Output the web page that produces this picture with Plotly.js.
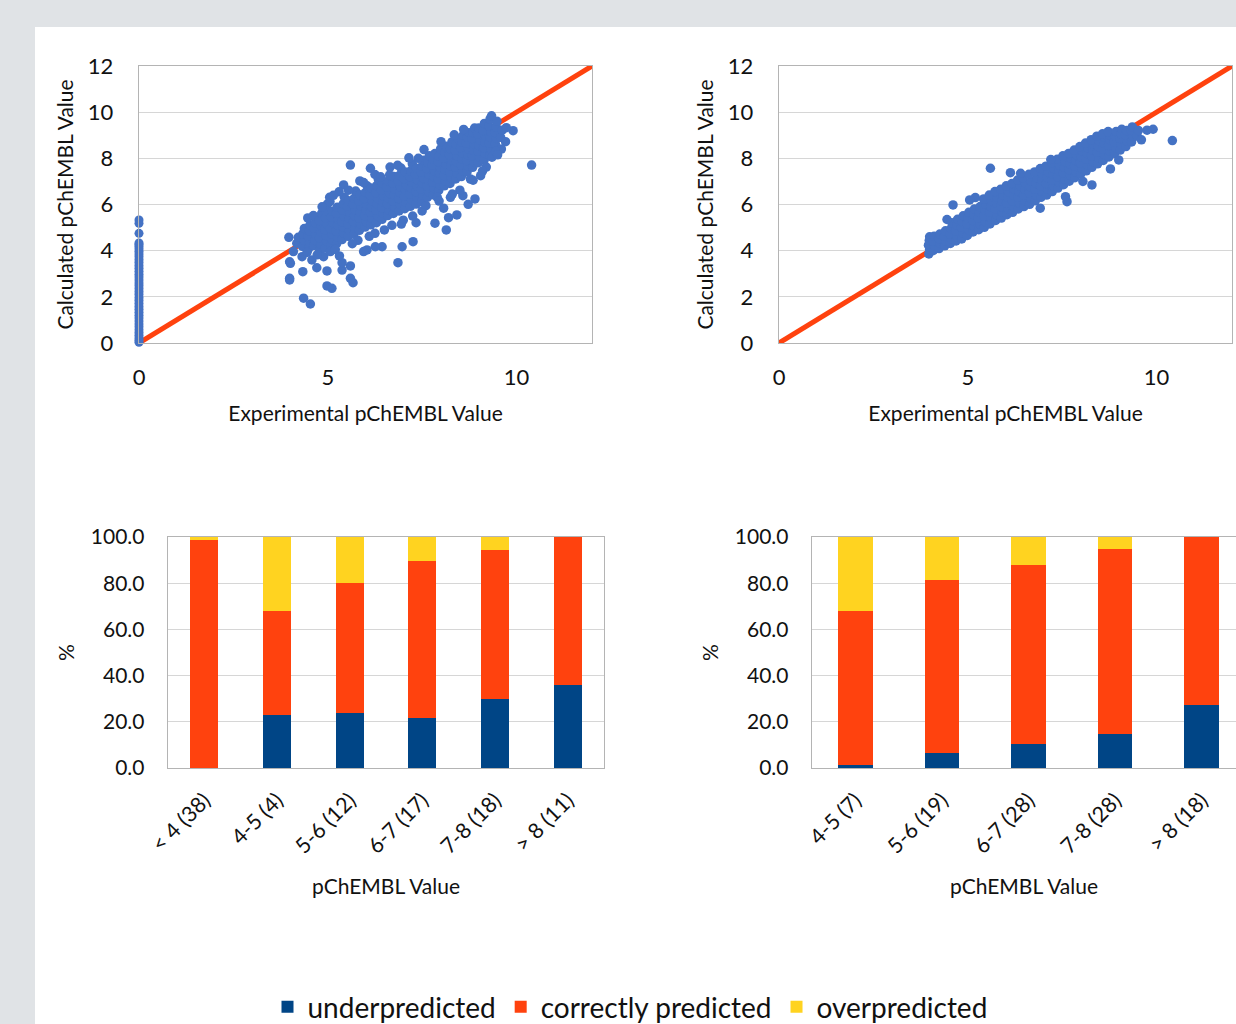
<!DOCTYPE html>
<html>
<head>
<meta charset="utf-8">
<script src="https://cdn.plot.ly/plotly-3.0.1.min.js"></script>
<style>
  html, body { margin: 0; padding: 0; background: #e0e3e6; overflow: hidden; }
  #chart { width: 1236px; height: 1024px; }
</style>
</head>
<body>
<div id="chart"></div>
<script>
// ---------- DATA ----------
// identity reference line (y = x)
const identityLineX = [0, 12];
const identityLineY = [0, 12];

// left scatter: compounds with experimental value 0 (column at x = 0)
const leftZeroColumnY = [0.03, 0.12, 0.22, 0.34, 0.45, 0.57, 0.7, 0.82, 0.95, 1.08, 1.2, 1.33, 1.46, 1.58,
  1.71, 1.84, 1.96, 2.1, 2.22, 2.35, 2.48, 2.6, 2.73, 2.86, 2.98, 3.11, 3.24, 3.36, 3.49, 3.61, 3.74,
  3.86, 3.98, 4.08, 4.18, 4.27, 4.33, 4.75, 5.19, 5.33];

// left scatter: [experimental, calculated]
const leftCloud = [
  [4.18,4.32],[4.22,4.58],
  [4.33,4.18],[4.37,4.47],[4.34,4.73],[4.38,4.96],
  [4.49,4.08],[4.52,4.36],[4.48,4.62],[4.51,4.87],[4.53,5.12],[4.47,5.42],
  [4.63,4.22],[4.66,4.44],[4.68,4.71],[4.64,4.97],[4.67,5.21],[4.62,5.52],
  [4.79,4.02],[4.82,4.28],[4.78,4.56],[4.81,4.83],[4.83,5.06],[4.77,5.31],[4.84,5.62],
  [4.93,4.12],[4.97,4.41],[4.95,4.66],[4.92,4.91],[4.98,5.16],[4.94,5.43],[4.96,5.72],[4.99,6.02],
  [5.08,4.21],[5.12,4.47],[5.11,4.72],[5.07,4.96],[5.13,5.22],[5.09,5.46],[5.12,5.71],[5.06,6.12],
  [5.24,4.32],[5.27,4.58],[5.22,4.86],[5.26,5.11],[5.28,5.36],[5.23,5.62],[5.25,5.88],
  [5.38,4.48],[5.42,4.76],[5.41,5.02],[5.37,5.26],[5.43,5.51],[5.39,5.77],[5.41,6.03],[5.44,6.31],
  [5.54,4.62],[5.57,4.88],[5.53,5.16],[5.56,5.41],[5.58,5.66],[5.52,5.92],[5.55,6.16],
  [5.69,4.71],[5.72,4.98],[5.68,5.26],[5.71,5.52],[5.73,5.76],[5.67,6.02],[5.7,6.27],[5.74,6.58],
  [5.84,4.88],[5.87,5.16],[5.83,5.41],[5.86,5.66],[5.88,5.92],[5.82,6.16],[5.85,6.42],
  [5.99,5.02],[6.02,5.26],[5.98,5.52],[6.01,5.76],[6.03,6.01],[5.97,6.26],[6.0,6.52],[6.04,6.81],
  [6.14,5.12],[6.17,5.41],[6.13,5.66],[6.16,5.91],[6.18,6.16],[6.12,6.42],[6.15,6.72],
  [6.29,5.21],[6.32,5.52],[6.28,5.76],[6.31,6.02],[6.33,6.26],[6.27,6.51],[6.3,6.82],[6.34,7.08],
  [6.44,5.36],[6.47,5.61],[6.43,5.86],[6.46,6.12],[6.48,6.36],[6.42,6.62],[6.45,6.91],
  [6.59,5.52],[6.62,5.76],[6.58,6.02],[6.61,6.26],[6.63,6.51],[6.57,6.76],[6.6,7.02],[6.64,7.28],
  [6.74,5.61],[6.77,5.91],[6.73,6.16],[6.76,6.41],[6.78,6.66],[6.72,6.92],[6.75,7.21],
  [6.89,5.72],[6.92,6.01],[6.88,6.26],[6.91,6.52],[6.93,6.76],[6.87,7.01],[6.9,7.26],[6.94,7.58],
  [7.04,5.82],[7.07,6.11],[7.03,6.36],[7.06,6.62],[7.08,6.86],[7.02,7.12],[7.05,7.41],
  [7.19,5.92],[7.22,6.21],[7.18,6.46],[7.21,6.71],[7.23,6.96],[7.17,7.21],[7.2,7.46],[7.24,7.76],
  [7.34,6.02],[7.37,6.31],[7.33,6.56],[7.36,6.81],[7.38,7.06],[7.32,7.31],[7.35,7.57],
  [7.49,6.12],[7.52,6.41],[7.48,6.66],[7.51,6.91],[7.53,7.16],[7.47,7.41],[7.5,7.66],[7.54,7.92],
  [7.64,6.31],[7.67,6.56],[7.63,6.81],[7.66,7.06],[7.68,7.31],[7.62,7.56],[7.65,7.81],[7.69,8.11],
  [7.79,6.42],[7.82,6.71],[7.78,6.96],[7.81,7.21],[7.83,7.46],[7.77,7.71],[7.8,7.96],[7.84,8.21],
  [7.94,6.61],[7.97,6.86],[7.93,7.11],[7.96,7.36],[7.98,7.61],[7.92,7.86],[7.95,8.11],[7.99,8.41],
  [8.09,6.81],[8.12,7.02],[8.08,7.26],[8.11,7.51],[8.13,7.76],[8.07,8.01],[8.1,8.26],[8.14,8.52],
  [8.24,6.91],[8.27,7.16],[8.23,7.41],[8.26,7.66],[8.28,7.91],[8.22,8.16],[8.25,8.41],[8.29,8.71],
  [8.39,7.11],[8.42,7.36],[8.38,7.61],[8.41,7.86],[8.43,8.11],[8.37,8.36],[8.4,8.61],[8.44,8.86],
  [8.54,7.21],[8.57,7.46],[8.53,7.71],[8.56,7.96],[8.58,8.21],[8.52,8.46],[8.55,8.71],[8.59,9.01],
  [8.69,7.41],[8.72,7.66],[8.68,7.91],[8.71,8.16],[8.73,8.41],[8.67,8.66],[8.7,8.91],[8.74,9.11],
  [8.84,7.61],[8.87,7.86],[8.83,8.11],[8.86,8.36],[8.88,8.61],[8.82,8.86],[8.85,9.11],[8.89,9.31],
  [8.99,7.81],[9.02,8.06],[8.98,8.31],[9.01,8.56],[9.03,8.81],[8.97,9.06],[9.0,9.31],
  [9.14,7.92],[9.17,8.21],[9.13,8.46],[9.16,8.71],[9.18,8.96],[9.12,9.21],[9.15,9.51],
  [9.29,8.12],[9.32,8.41],[9.28,8.66],[9.31,8.91],[9.33,9.16],[9.27,9.41],[9.3,9.71],
  [9.44,8.62],[9.47,8.86],[9.43,9.11],[9.46,9.36],[9.48,9.61],
  [9.58,8.91],[9.62,9.22],
  [10.4,7.71],[9.91,9.2],[9.73,9.33],[9.34,9.84],[9.71,8.72],[9.35,8.05],[8.9,6.24],[8.72,6.01],
  [8.58,6.38],[8.42,5.55],[8.2,5.43],[8.14,4.9],[7.84,5.19],[8.25,6.31],[7.9,6.31],[8.07,5.84],
  [8.78,7.1],[7.26,4.39],[6.97,4.17],[6.86,3.48],[7.34,5.21],[5.6,7.71],[6.13,7.57],[5.42,6.85],
  [5.05,6.31],[6.44,4.17],[6.26,4.17],[6.04,4.03],[5.95,3.96],[5.6,3.34],[5.6,2.8],[5.67,2.61],
  [4.98,2.47],[5.11,2.37],[5.38,3.16],[5.38,3.48],[4.98,3.12],[4.71,3.26],[4.34,3.09],[4.36,1.94],
  [4.54,1.69],[3.99,2.8],[3.99,2.73],[3.99,3.52],[4.01,3.45],[3.97,4.58],[4.09,3.96],[4.32,3.74],
  [4.58,3.6],[4.89,3.74],[5.07,3.96],[5.31,3.77],
  [5.3,6.55],[5.85,7.02],[6.25,7.3],[6.65,7.62],[7.15,8.02],[7.55,8.38],[8.0,8.72],[8.35,9.02],
  [8.6,9.25],[6.1,4.62],[6.5,4.9],[7.0,5.32],[7.5,5.72],[7.95,6.15],[8.5,6.62],[9.05,7.25],
  [9.2,7.62],[4.45,3.92],[4.72,3.82],[5.2,4.05],[5.8,4.45],[6.7,5.1],[7.25,5.5],[9.6,8.4],[9.45,8.3],
  [5.55,6.62],[5.95,6.95],[6.4,7.2],[5.15,6.4],[6.85,7.7],[7.4,8.0],[4.85,5.9],[5.65,4.3],
  [6.25,4.75],[6.95,5.15],[7.6,5.95],[8.3,6.45],[8.85,7.05],[9.1,7.45],[9.5,8.15]
];

// right scatter: [experimental, calculated]
const rightCloud = [
  [3.97,3.86],[3.99,4.05],[3.96,4.24],[3.98,4.44],[3.99,4.6],
  [4.09,4.01],[4.12,4.21],[4.08,4.41],[4.11,4.62],
  [4.24,4.09],[4.27,4.31],[4.23,4.52],[4.26,4.72],
  [4.39,4.21],[4.42,4.41],[4.38,4.62],[4.41,4.86],
  [4.54,4.31],[4.57,4.51],[4.53,4.72],[4.56,4.96],[4.58,5.21],
  [4.69,4.42],[4.72,4.61],[4.68,4.86],[4.71,5.11],[4.73,5.36],
  [4.84,4.51],[4.87,4.76],[4.83,5.01],[4.86,5.26],[4.88,5.51],
  [4.99,4.66],[5.02,4.91],[4.98,5.16],[5.01,5.41],[5.03,5.66],
  [5.14,4.81],[5.17,5.06],[5.13,5.31],[5.16,5.56],[5.18,5.81],
  [5.29,4.91],[5.32,5.16],[5.28,5.41],[5.31,5.66],[5.33,5.91],
  [5.44,5.01],[5.47,5.26],[5.43,5.51],[5.46,5.76],[5.48,6.01],[5.42,6.24],
  [5.59,5.16],[5.62,5.41],[5.58,5.66],[5.61,5.91],[5.63,6.16],[5.57,6.41],
  [5.74,5.31],[5.77,5.56],[5.73,5.81],[5.76,6.06],[5.78,6.31],[5.72,6.56],
  [5.89,5.41],[5.92,5.66],[5.88,5.91],[5.91,6.16],[5.93,6.41],[5.87,6.66],
  [6.04,5.56],[6.07,5.81],[6.03,6.06],[6.06,6.31],[6.08,6.56],[6.02,6.81],
  [6.19,5.66],[6.22,5.91],[6.18,6.16],[6.21,6.41],[6.23,6.66],[6.17,6.91],
  [6.34,5.81],[6.37,6.06],[6.33,6.31],[6.36,6.56],[6.38,6.81],[6.32,7.06],
  [6.49,5.91],[6.52,6.16],[6.48,6.41],[6.51,6.66],[6.53,6.91],[6.47,7.16],
  [6.64,6.01],[6.67,6.26],[6.63,6.51],[6.66,6.76],[6.68,7.01],[6.62,7.31],
  [6.79,6.16],[6.82,6.41],[6.78,6.66],[6.81,6.91],[6.83,7.16],[6.77,7.41],
  [6.94,6.31],[6.97,6.56],[6.93,6.81],[6.96,7.06],[6.98,7.31],[6.92,7.56],
  [7.09,6.41],[7.12,6.66],[7.08,6.91],[7.11,7.16],[7.13,7.41],[7.07,7.66],
  [7.24,6.56],[7.27,6.81],[7.23,7.06],[7.26,7.31],[7.28,7.56],[7.22,7.81],
  [7.39,6.71],[7.42,6.96],[7.38,7.21],[7.41,7.46],[7.43,7.71],[7.37,7.96],
  [7.54,6.86],[7.57,7.11],[7.53,7.36],[7.56,7.61],[7.58,7.86],[7.52,8.11],
  [7.69,7.01],[7.72,7.26],[7.68,7.51],[7.71,7.76],[7.73,8.01],[7.67,8.21],
  [7.84,7.16],[7.87,7.41],[7.83,7.66],[7.86,7.91],[7.88,8.16],[7.82,8.36],
  [7.99,7.31],[8.02,7.56],[7.98,7.81],[8.01,8.06],[8.03,8.31],[7.97,8.51],
  [8.14,7.46],[8.17,7.71],[8.13,7.96],[8.16,8.21],[8.18,8.46],[8.12,8.66],
  [8.29,7.61],[8.32,7.86],[8.28,8.11],[8.31,8.36],[8.33,8.61],[8.27,8.81],
  [8.44,7.76],[8.47,8.01],[8.43,8.26],[8.46,8.51],[8.48,8.76],[8.42,8.96],
  [8.59,7.91],[8.62,8.16],[8.58,8.41],[8.61,8.66],[8.63,8.91],[8.57,9.06],
  [8.74,8.06],[8.77,8.31],[8.73,8.56],[8.76,8.81],[8.78,9.01],[8.72,9.16],
  [8.89,8.21],[8.92,8.46],[8.88,8.71],[8.91,8.96],[8.93,9.16],
  [9.04,8.36],[9.07,8.61],[9.03,8.86],[9.06,9.06],[9.08,9.26],
  [9.19,8.51],[9.22,8.76],[9.18,9.01],[9.21,9.21],
  [9.34,8.71],[9.37,8.96],[9.33,9.21],[9.36,9.36],
  [9.49,8.96],[9.52,9.21],
  [10.42,8.77],[9.91,9.26],[9.75,9.22],[5.6,7.57],[6.13,7.38],[4.61,5.98],[8.78,7.54],[8.29,6.85],
  [7.63,6.12],[7.59,6.34],[6.92,5.84],[9.0,7.93],[5.2,6.3],[4.45,5.35],[8.05,7.0],[5.05,6.2],
  [7.2,7.95],[6.4,7.35],[9.6,8.8]
];

// bar charts (percent of compounds)
const leftCategories  = ['< 4 (38)', '4-5 (4)', '5-6 (12)', '6-7 (17)', '7-8 (18)', '> 8 (11)'];
const leftUnder       = [0, 23.0, 24.0, 21.6, 30.0, 36.0];
const leftCorrect     = [98.8, 45.0, 56.0, 68.0, 64.2, 64.0];
const leftOver        = [1.2, 32.0, 20.0, 10.4, 5.8, 0];

const rightCategories = ['4-5 (7)', '5-6 (19)', '6-7 (28)', '7-8 (28)', '> 8 (18)'];
const rightUnder      = [1.3, 6.5, 10.3, 14.9, 27.1];
const rightCorrect    = [66.7, 74.7, 77.4, 79.8, 72.9];
const rightOver       = [32.0, 18.8, 12.3, 5.3, 0];

const seriesNames = ['underpredicted', 'correctly predicted', 'overpredicted'];

// ---------- STYLE ----------
const FONT = 'Lato, "Liberation Sans", "DejaVu Sans", sans-serif';
const TEXT = '#111111';
const COL_POINT = '#4472c4';
const COL_LINE = '#ff420e';
const COL_UNDER = '#004586';
const COL_CORRECT = '#ff420e';
const COL_OVER = '#ffd320';
const AXLINE = '#b4b4b4';
const GRID = '#d6d6d6';

const W = 1236, H = 1024;
const px = v => v / W;
const py = v => 1 - v / H;

const traces = [];

function scatterSet(xa, ya, zeroCol, cloud) {
  traces.push({
    type: 'scatter', mode: 'lines', x: identityLineX, y: identityLineY,
    xaxis: xa, yaxis: ya, line: {color: COL_LINE, width: 5}, showlegend: false,
    hoverinfo: 'skip', cliponaxis: false
  });
  if (zeroCol) {
    traces.push({
      type: 'scatter', mode: 'markers', x: zeroCol.map(() => 0), y: zeroCol,
      xaxis: xa, yaxis: ya, marker: {color: COL_POINT, size: 9}, showlegend: false,
      cliponaxis: false
    });
  }
  traces.push({
    type: 'scatter', mode: 'markers', x: cloud.map(p => p[0]), y: cloud.map(p => p[1]),
    xaxis: xa, yaxis: ya, marker: {color: COL_POINT, size: 9.5}, showlegend: false,
    cliponaxis: false
  });
}
scatterSet('x', 'y', leftZeroColumnY, leftCloud);
scatterSet('x2', 'y2', null, rightCloud);

const barColors = [COL_UNDER, COL_CORRECT, COL_OVER];
[leftUnder, leftCorrect, leftOver].forEach((vals, i) => {
  traces.push({
    type: 'bar', x: leftCategories, y: vals, name: seriesNames[i],
    xaxis: 'x3', yaxis: 'y3', width: 0.385,
    marker: {color: barColors[i], line: {width: 0}}, showlegend: true
  });
});
[rightUnder, rightCorrect, rightOver].forEach((vals, i) => {
  traces.push({
    type: 'bar', x: rightCategories, y: vals, name: seriesNames[i],
    xaxis: 'x4', yaxis: 'y4', width: 0.40,
    marker: {color: barColors[i], line: {width: 0}}, showlegend: false
  });
});

const tickFontBig = {family: FONT, size: 22, color: TEXT};
const tickFontBar = {family: FONT, size: 21, color: TEXT};
const tickFontCat = {family: FONT, size: 21.5, color: TEXT};
const titleFont = {family: FONT, size: 21, color: TEXT};

function scatterX(domain, anchor) {
  return {
    domain: domain, anchor: anchor, range: [0, 12], tick0: 0, dtick: 5,
    showgrid: false, zeroline: false, showline: true, linecolor: AXLINE, linewidth: 1.3,
    mirror: true, ticks: '', tickfont: tickFontBig, ticklabelstandoff: 14,
    title: {text: 'Experimental pChEMBL Value', font: titleFont, standoff: 17}, fixedrange: true
  };
}
function scatterY(anchor) {
  return {
    domain: [py(343), py(66)], anchor: anchor, range: [0, 12], tick0: 0, dtick: 2,
    showgrid: true, gridcolor: GRID, gridwidth: 1.2, zeroline: false, showline: true,
    linecolor: AXLINE, linewidth: 1.3, mirror: true, ticks: '', tickfont: tickFontBig,
    ticklabelstandoff: 20,
    title: {text: 'Calculated pChEMBL Value', font: titleFont, standoff: 8}, fixedrange: true
  };
}
function barY(anchor, mirror) {
  return {
    domain: [py(768), py(537)], anchor: anchor, range: [0, 100], tick0: 0, dtick: 20,
    tickformat: '.1f', showgrid: true, gridcolor: GRID, gridwidth: 1.2, zeroline: false,
    showline: true, linecolor: AXLINE, linewidth: 1.3, mirror: mirror, ticks: '',
    tickfont: tickFontBar, ticklabelstandoff: 18,
    title: {text: '%', font: titleFont, standoff: 10}, fixedrange: true
  };
}
function barX(domain, anchor, range) {
  return {
    domain: domain, anchor: anchor, type: 'category', range: range,
    showgrid: false, zeroline: false, showline: true, linecolor: AXLINE, linewidth: 1.3,
    mirror: true, ticks: '', tickangle: -45, tickfont: tickFontCat, ticklabelstandoff: 10,
    title: {text: 'pChEMBL Value', font: titleFont, standoff: 22}, fixedrange: true
  };
}

const layout = {
  width: W, height: H,
  margin: {l: 0, r: 0, t: 0, b: 0, pad: 0, autoexpand: false},
  paper_bgcolor: '#e0e3e6',
  plot_bgcolor: '#ffffff',
  font: {family: FONT, color: TEXT},
  barmode: 'stack',
  showlegend: true,
  legend: {
    orientation: 'h', x: px(630), xanchor: 'center', y: py(1007), yanchor: 'middle',
    font: {family: FONT, size: 28, color: TEXT}, bgcolor: 'rgba(0,0,0,0)',
    traceorder: 'normal', itemwidth: 30
  },
  xaxis: scatterX([px(139), px(592)], 'y'),
  yaxis: scatterY('x'),
  xaxis2: scatterX([px(779), px(1232)], 'y2'),
  yaxis2: scatterY('x2'),
  xaxis3: barX([px(168), px(604)], 'y3', [-0.5, 5.5]),
  yaxis3: barY('x3', true),
  xaxis4: barX([px(812), 1], 'y4', [-0.5, 4.396]),
  yaxis4: barY('x4', false),
  shapes: [
    {type: 'rect', xref: 'paper', yref: 'paper', x0: px(35), x1: 1, y0: 0, y1: py(27),
     fillcolor: '#ffffff', line: {width: 0}, layer: 'below'}
  ]
};

Plotly.newPlot('chart', traces, layout, {staticPlot: true, displayModeBar: false});
</script>
</body>
</html>
